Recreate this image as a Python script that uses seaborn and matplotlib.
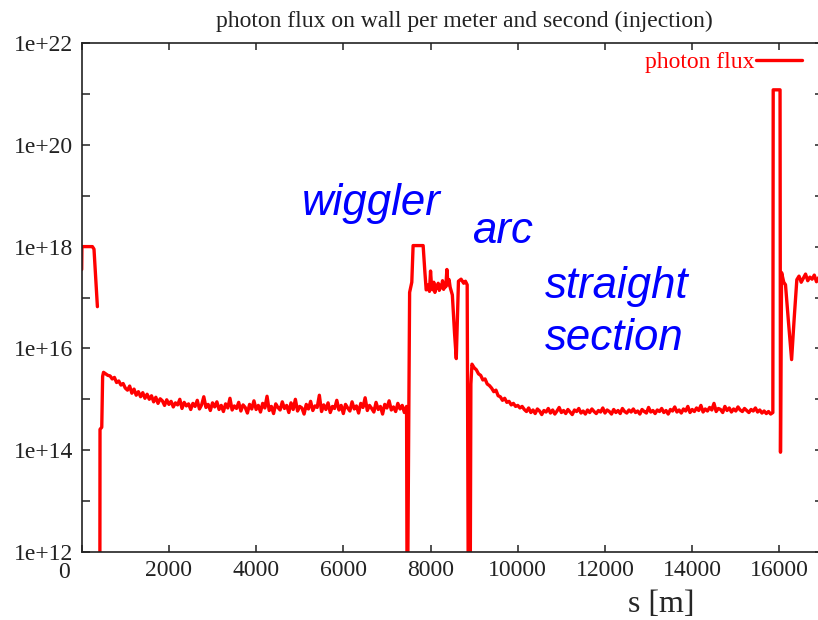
import numpy as np
import pandas as pd
import matplotlib
matplotlib.use("Agg")
import matplotlib.pyplot as plt
import matplotlib.transforms as mtransforms
from matplotlib.ticker import FixedLocator, FixedFormatter, NullFormatter
from matplotlib.lines import Line2D
import seaborn as sns

# ---------------- data (log10 of photon flux) ----------------
inj_s = [0, 5, 245, 282, 360]
inj_logf = [17.55, 18.0, 18.0, 17.95, 16.82]

arc1_edge_s = [415, 420, 460, 480, 500]
arc1_edge_logf = [10.0, 14.41, 14.45, 15.45, 15.53]

arc1_s = np.arange(550, 7451, 50)
arc1_logf = [
    15.50, 15.47, 15.46, 15.40, 15.43, 15.33, 15.36, 15.28, 15.31, 15.22,
    15.18, 15.26, 15.12, 15.20, 15.08, 15.15, 15.05, 15.13, 15.02, 15.10,
    15.00, 15.07, 14.95, 15.04, 14.92, 15.01, 14.97, 14.88, 14.99, 14.90,
    14.96, 14.85, 14.93, 14.89, 15.00, 14.82, 14.94, 14.87, 14.91, 14.80,
    14.92, 14.86, 14.98, 14.81, 14.89, 15.05, 14.84, 14.90, 14.78, 14.93,
    14.85, 14.95, 14.80, 14.88, 14.76, 14.91, 14.83, 15.02, 14.79, 14.87,
    14.82, 14.94, 14.77, 14.89, 14.84, 14.73, 14.90, 14.81, 14.97, 14.80,
    14.88, 14.75, 14.92, 14.83, 15.06, 14.78, 14.86, 14.72, 14.91, 14.84,
    14.79, 14.95, 14.82, 14.88, 14.74, 14.93, 14.80, 15.00, 14.77, 14.86,
    14.83, 14.71, 14.90, 14.81, 14.96, 14.78, 14.87, 14.84, 15.08, 14.76,
    14.89, 14.80, 14.93, 14.74, 14.86, 14.82, 14.98, 14.79, 14.88, 14.72,
    14.90, 14.83, 14.77, 14.95, 14.81, 14.87, 14.73, 14.92, 14.84, 15.03,
    14.78, 14.88, 14.82, 14.75, 14.94, 14.80, 14.86, 14.71, 14.90, 14.83,
    14.97, 14.79, 14.85, 14.76, 14.92, 14.81, 14.88, 14.74, 14.86,
]

wig_in_s = [7465, 7520, 7570, 7600, 7830, 7870, 7900]
wig_in_logf = [10.0, 17.1, 17.3, 18.02, 18.02, 17.5, 17.15]

wig_s = np.arange(7925, 8451, 25)
wig_logf = [17.18, 17.25, 17.12, 17.52, 17.20, 17.15, 17.30, 17.10, 17.22, 17.18, 17.28,
            17.14, 17.24, 17.19, 17.33, 17.16, 17.27, 17.21, 17.55, 17.25, 17.35, 17.20]

wig_out_s = [8500, 8550, 8590, 8615, 8640, 8700, 8760, 8800, 8840, 8870, 8905, 8925]
wig_out_logf = [17.05, 16.3, 15.80, 16.6, 17.32, 17.36, 17.28, 17.32, 17.25, 10.0, 10.0, 15.3]

decay_s = np.arange(8950, 10101, 50)
decay_logf = [15.69, 15.62, 15.58, 15.50, 15.47, 15.38, 15.40, 15.30, 15.27, 15.22, 15.15, 15.18,
              15.07, 15.05, 14.98, 15.02, 14.94, 14.96, 14.89, 14.92, 14.86, 14.88, 14.83, 14.86]

straight_s = np.arange(10150, 15851, 50)
straight_logf = [
    14.80, 14.76, 14.83, 14.74, 14.79, 14.72, 14.81, 14.77, 14.70, 14.78,
    14.75, 14.82, 14.73, 14.79, 14.71, 14.77, 14.84, 14.74, 14.78, 14.72,
    14.80, 14.75, 14.70, 14.79, 14.76, 14.82, 14.73, 14.77, 14.71, 14.79,
    14.74, 14.81, 14.76, 14.72, 14.78, 14.75, 14.83, 14.73, 14.79, 14.76,
    14.71, 14.80, 14.74, 14.78, 14.72, 14.82, 14.76, 14.73, 14.79, 14.75,
    14.81, 14.74, 14.77, 14.71, 14.80, 14.76, 14.73, 14.84, 14.75, 14.78,
    14.72, 14.79, 14.76, 14.82, 14.74, 14.78, 14.71, 14.80, 14.77, 14.85,
    14.75, 14.79, 14.73, 14.81, 14.77, 14.86, 14.74, 14.80, 14.76, 14.83,
    14.78, 14.88, 14.75, 14.81, 14.77, 14.84, 14.79, 14.92, 14.76, 14.82,
    14.80, 14.74, 14.86, 14.78, 14.83, 14.75, 14.81, 14.77, 14.85, 14.79,
    14.76, 14.82, 14.78, 14.74, 14.80, 14.77, 14.83, 14.75, 14.79, 14.73,
    14.77, 14.72, 14.76, 14.71, 14.74,
]

peak_s = [15858, 16015, 16025, 16050, 16100, 16140, 16210, 16280, 16340]
peak_logf = [21.08, 21.08, 13.96, 17.49, 17.30, 17.25, 16.5, 15.78, 16.6]

ring_s = np.arange(16400, 17001, 50)
ring_logf = [17.35, 17.42, 17.30, 17.38, 17.46, 17.33, 17.40, 17.36, 17.44, 17.31, 17.39, 17.34, 17.41]

x_ticks = [0, 2000, 4000, 6000, 8000, 10000, 12000, 14000, 16000]
y_major = [1e12, 1e14, 1e16, 1e18, 1e20, 1e22]
y_minor = [1e13, 1e15, 1e17, 1e19, 1e21]
y_labels = ["1e+12", "1e+14", "1e+16", "1e+18", "1e+20", "1e+22"]

# ---------------- build table ----------------
seg1_s = list(inj_s)
seg1_f = list(inj_logf)
seg2_s = (list(arc1_edge_s) + list(arc1_s) + list(wig_in_s) + list(wig_s) + list(wig_out_s)
          + list(decay_s) + list(straight_s) + list(peak_s) + list(ring_s))
seg2_f = (arc1_edge_logf + arc1_logf + wig_in_logf + wig_logf + wig_out_logf
          + decay_logf + straight_logf + peak_logf + ring_logf)

df = pd.DataFrame({
    "s": seg1_s + seg2_s,
    "flux": 10.0 ** np.array(seg1_f + seg2_f),
    "seg": [1] * len(seg1_s) + [2] * len(seg2_s),
})

# ---------------- plot ----------------
sns.set_style("ticks")
plt.rcParams["font.family"] = ["Liberation Serif", "DejaVu Serif"]

W, H = 818, 620
fig = plt.figure(figsize=(W / 100, H / 100), dpi=100)
ax_l, ax_r, ax_t, ax_b = 81.7, 823, 43, 552
ax = fig.add_axes([ax_l / W, 1 - ax_b / H, (ax_r - ax_l) / W, (ax_b - ax_t) / H])

sns.lineplot(data=df, x="s", y="flux", units="seg", estimator=None, sort=False,
             color="#ff0000", linewidth=2.4, ax=ax, legend=False)

ax.set_yscale("log")
ax.set_xlim(0, 17000)
ax.set_ylim(1e12, 1e22)

ax.yaxis.set_major_locator(FixedLocator(y_major))
ax.yaxis.set_major_formatter(FixedFormatter(y_labels))
ax.yaxis.set_minor_locator(FixedLocator(y_minor))
ax.yaxis.set_minor_formatter(NullFormatter())
ax.set_xticks(x_ticks)
ax.set_xticklabels([str(v) for v in x_ticks])

for side in ["left", "right", "top", "bottom"]:
    ax.spines[side].set_visible(True)
    ax.spines[side].set_color("#222222")
    ax.spines[side].set_linewidth(1.2)

ax.tick_params(axis="both", which="both", direction="in", top=True, right=True,
               colors="#222222", labelcolor="#222222", width=1.1)
ax.tick_params(axis="y", which="both", length=6, labelsize=17, pad=6)
ax.tick_params(axis="x", which="both", length=5, labelsize=17, pad=6)

# the "0" label sits a little to the left (and just below "1e+12") in the reference
lbl0 = ax.get_xticklabels()[0]
lbl0.set_transform(lbl0.get_transform() +
                   mtransforms.ScaledTranslation(-18 / 100, -2 / 100, fig.dpi_scale_trans))

ax.set_xlabel("s [m]", fontsize=23)
ax.xaxis.label.set_va("center")
ax.xaxis.set_label_coords((661 - ax_l) / (ax_r - ax_l), (ax_b - 604) / (ax_b - ax_t))
ax.set_ylabel("")

fig.text(464 / W, 1 - 27 / H, "photon flux on wall per meter and second (injection)",
         ha="center", va="baseline", fontsize=17, color="#222222")

handle = Line2D([], [], color="#ff0000", linewidth=2.4)
leg = ax.legend([handle], ["photon flux"], loc="center right",
                bbox_to_anchor=((802 - ax_l) / (ax_r - ax_l), (ax_b - 62) / (ax_b - ax_t)),
                frameon=False, markerfirst=False, fontsize=17, handlelength=1.95,
                handletextpad=0.05, borderpad=0, borderaxespad=0)
for t in leg.get_texts():
    t.set_color("#ff0000")

ann_font = ["Liberation Sans", "DejaVu Sans"]
def frac(px, py):
    return (px - ax_l) / (ax_r - ax_l), (ax_b - py) / (ax_b - ax_t)

for txt, px, py in [("wiggler", 302, 215), ("arc", 472, 243),
                    ("straight", 545, 298), ("section", 545, 350)]:
    fx, fy = frac(px, py)
    ax.text(fx, fy, txt, transform=ax.transAxes, ha="left", va="baseline",
            fontsize=31.5, style="italic", color="#0000ff", family=ann_font)

fig.savefig("out.png", dpi=100)
